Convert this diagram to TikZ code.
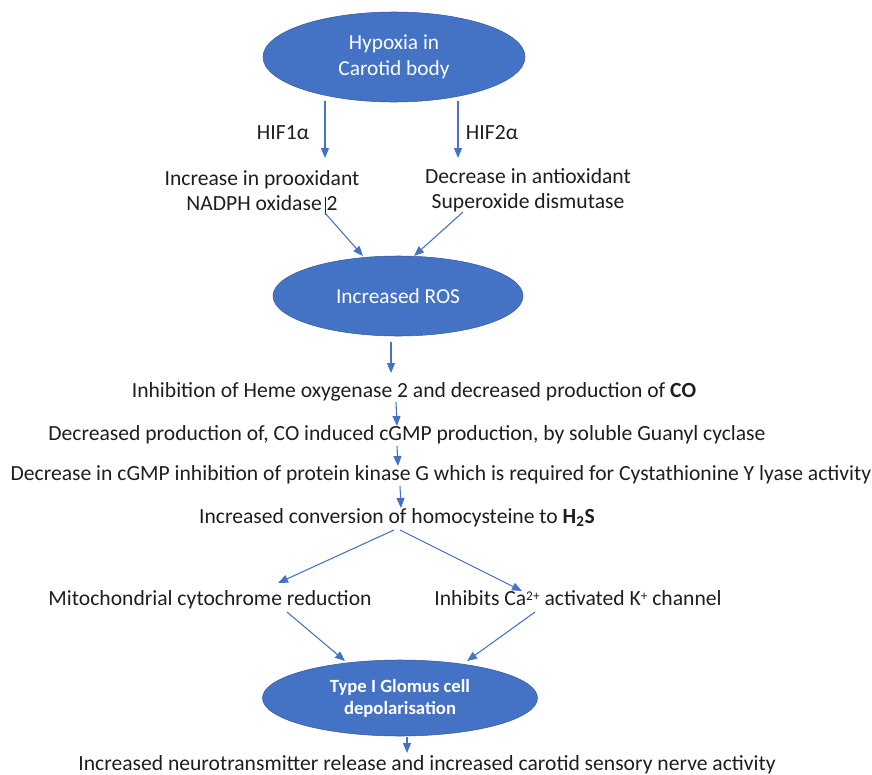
\documentclass[tikz,border=0pt]{standalone}
\usepackage{fontspec}
\setmainfont{Carlito}
\usetikzlibrary{shapes.geometric,arrows.meta}
\definecolor{accent}{HTML}{4472C4}
\definecolor{ink}{HTML}{1E1E1E}
\newcommand{\supsm}[1]{\raisebox{0.45ex}{\fontsize{10pt}{10pt}\selectfont #1}}
\begin{document}
\begin{tikzpicture}[x=0.75pt,y=-0.75pt,
  bubble/.style={ellipse,fill=accent,draw=accent!80!black,line width=0.4pt,text=white,align=center,inner sep=0pt},
  lbl/.style={font=\fontsize{16.2pt}{18.75pt}\selectfont,align=center,inner sep=0pt,text=ink},
  conn/.style={draw=accent,line width=0.8pt,-{Triangle[length=7.5pt,width=6pt]}}]
\useasboundingbox (0,0) rectangle (872,775);

\node[bubble,minimum width=262*0.75pt,minimum height=90*0.75pt,font=\fontsize{16pt}{19.5pt}\selectfont] (hyp) at (394,57) {Hypoxia in\\Carotid body};

\node[lbl,anchor=base] (hif1) at (283,139) {HIF1α};
\node[lbl,anchor=base] (hif2) at (492,139) {HIF2α};

\node[lbl] (pro) at (262,190.5) {Increase in prooxidant\\NADPH oxidase 2};
\node[lbl] (anti) at (528,190.5) {Decrease in antioxidant\\Superoxide dismutase};

\node[bubble,minimum width=250*0.75pt,minimum height=80*0.75pt,font=\fontsize{16pt}{18pt}\selectfont] (ros) at (398,296) {Increased ROS};

\node[lbl,anchor=base] (ho) at (414,397) {Inhibition of Heme oxygenase 2 and decreased production of \textbf{CO}};
\node[lbl,anchor=base] (gc) at (407,440) {Decreased production of, CO induced cGMP production, by soluble Guanyl cyclase};
\node[lbl,anchor=base] (pkg) at (441,480) {Decrease in cGMP inhibition of protein kinase G which is required for Cystathionine Υ lyase activity};
\node[lbl,anchor=base] (hs) at (397,523) {Increased conversion of homocysteine to \textbf{H\textsubscript{2}S}};

\node[lbl,anchor=base] (mito) at (210,605) {Mitochondrial cytochrome reduction};
\node[lbl,anchor=base] (kch) at (578,605) {Inhibits Ca\supsm{2+} activated K\supsm{+} channel};

\node[bubble,minimum width=275*0.75pt,minimum height=76*0.75pt,font=\bfseries\fontsize{14pt}{16.5pt}\selectfont] (glo) at (400,698) {Type I Glomus cell\\depolarisation};

\node[lbl,anchor=base] (nt) at (427,770) {Increased neurotransmitter release and increased carotid sensory nerve activity};

% text cursor mark in the reference
\draw[ink,line width=0.6pt] (325.5,197) coordinate (cur1) -- (325.5,215) coordinate (cur2);

% connectors
\coordinate (h1s) at (325,101);
\coordinate (h2s) at (458,101);
\draw[conn] (h1s) -- (325,158) coordinate (h1e);
\draw[conn] (h2s) -- (458,158) coordinate (h2e);
\draw[conn] (325,213) coordinate (ps) -- (363,256) coordinate (pe);
\draw[conn] (463,212) coordinate (as) -- (414,256) coordinate (ae);
\draw[conn] (391,342) coordinate (rs) -- (391,373) coordinate (re);
\draw[conn] (396,402) coordinate (hos) -- (397,426) coordinate (hoe);
\draw[conn] (397,446) coordinate (gcs) -- (398,466) coordinate (gce);
\draw[conn] (400,486) coordinate (pks) -- (401,508) coordinate (pke);
\draw[conn] (394,530) coordinate (hsl) -- (278,583) coordinate (mte);
\draw[conn] (400,530) coordinate (hsr) -- (522,591) coordinate (kce);
\draw[conn] (287,612) coordinate (ms) -- (345,661) coordinate (me);
\draw[conn] (535,612) coordinate (ks) -- (467,661) coordinate (ke);
\draw[conn] (407,737) coordinate (gs) -- (407,753) coordinate (ge);
\end{tikzpicture}
\end{document}
